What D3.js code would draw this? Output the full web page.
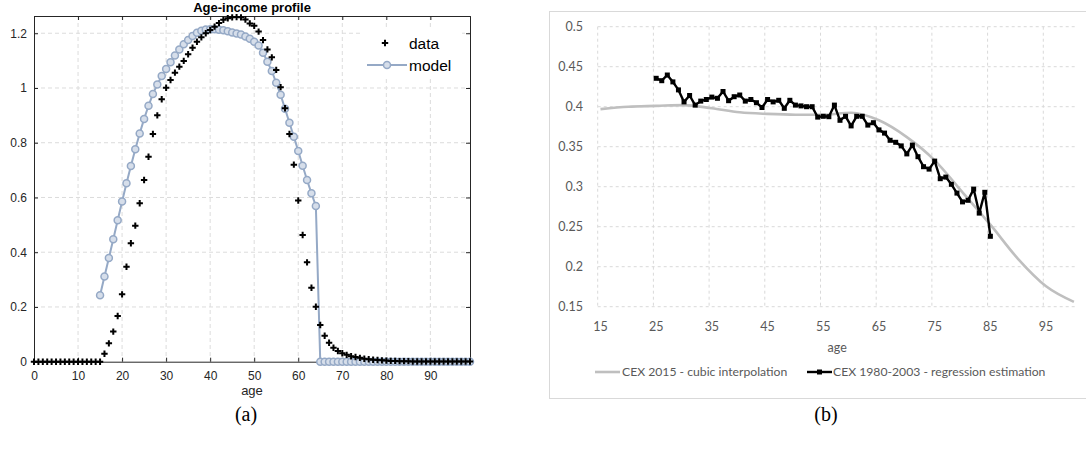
<!DOCTYPE html>
<html>
<head>
<meta charset="utf-8">
<script src="https://cdn.jsdelivr.net/npm/d3@7/dist/d3.min.js"></script>
<style>
  html, body { margin: 0; padding: 0; background: #fff; }
  svg { display: block; }
</style>
</head>
<body>
<svg id="chart" width="1086" height="459"></svg>
<script>
// ---------------- Panel (a) data ----------------
const agesA = d3.range(0, 100);
const dataIncome = [
  0,0,0,0,0,0,0,0,0,0, 0,0,0,0,0,0,0.029,0.067,0.11,0.167,
  0.246,0.347,0.433,0.497,0.579,0.664,0.749,0.832,0.900,0.959,
  1.001,1.029,1.056,1.078,1.099,1.123,1.147,1.169,1.185,1.200,
  1.212,1.224,1.237,1.249,1.255,1.258,1.259,1.258,1.250,1.236,
  1.227,1.206,1.175,1.141,1.112,1.066,1.003,0.926,0.832,0.720,
  0.589,0.463,0.363,0.270,0.201,0.134,0.095,0.069,0.051,0.039,
  0.031,0.025,0.020,0.017,0.014,0.011,0.009,0.007,0.006,0.005,
  0.004,0.003,0.003,0.002,0.002,0.002,0.001,0.001,0.001,0.001,
  0.0005,0.0005,0.0005,0.0005,0.0005,0.0005,0.0005,0.0005,0.0005,0.0005
];
const modelAges = d3.range(15, 100);
const modelIncome = [
  0.243,0.311,0.379,0.447,0.517,0.585,0.652,0.715,0.776,0.834,
  0.887,0.935,0.978,1.013,1.044,1.069,1.094,1.119,1.141,1.160,
  1.175,1.190,1.202,1.209,1.214,1.215,1.215,1.213,1.211,1.207,
  1.203,1.199,1.195,1.188,1.180,1.169,1.155,1.129,1.096,1.062,
  1.019,0.975,0.924,0.873,0.822,0.770,0.716,0.664,0.615,0.569,
  0,0,0,0,0,0,0,0,0,0, 0,0,0,0,0,0,0,0,0,0,
  0,0,0,0,0,0,0,0,0,0, 0,0,0,0,0
];
const xTicksA = [0,10,20,30,40,50,60,70,80,90];
const yTicksA = [0,0.2,0.4,0.6,0.8,1,1.2];
const titleA = "Age-income profile";
const legendA = ["data", "model"];

// ---------------- Panel (b) data ----------------
const agesB = d3.range(15, 101);
const cubicAges = [15,20,25,30,35,40,45,50,55,60,65,70,75,80,85,90,95,100];
const cubicVals = [0.397,0.400,0.401,0.402,0.398,0.393,0.391,0.390,0.390,0.3925,0.383,0.362,0.333,0.293,0.2525,0.2095,0.1755,0.156];
const regAges = d3.range(25, 86);
const regVals = [
  0.4355,0.4325,0.4396,0.431,0.421,0.406,0.414,0.402,0.407,0.409,
  0.412,0.4105,0.419,0.4075,0.4125,0.4146,0.407,0.409,0.405,0.399,
  0.409,0.406,0.408,0.398,0.408,0.402,0.401,0.400,0.400,0.387,
  0.388,0.3875,0.402,0.383,0.388,0.376,0.388,0.388,0.377,0.380,
  0.371,0.367,0.358,0.3555,0.351,0.341,0.352,0.3375,0.325,0.322,
  0.332,0.310,0.312,0.303,0.292,0.281,0.283,0.297,0.267,0.293,
  0.238
];
const xTicksB = [15,25,35,45,55,65,75,85,95];
const yTicksB = [0.15,0.2,0.25,0.3,0.35,0.4,0.45,0.5];
const legendB = ["CEX 2015 - cubic interpolation", "CEX 1980-2003 - regression estimation"];

const svg = d3.select("#chart");

// ================= Panel (a) =================
(function(){
  const L = 34, R = 470, T = 16, B = 361.7;
  const x = d3.scaleLinear().domain([0, 99]).range([L, R]);
  const y = d3.scaleLinear().domain([0, 1.263]).range([B, T]);
  const g = svg.append("g");
  const font = "'Liberation Sans', Arial, Helvetica, sans-serif";

  // grid
  g.append("g").selectAll("line").data(xTicksA.filter(d => d > 0)).join("line")
    .attr("x1", d => x(d)).attr("x2", d => x(d)).attr("y1", T).attr("y2", B)
    .attr("stroke", "#dcdcdc").attr("stroke-dasharray", "4,3").attr("stroke-width", 1);
  g.append("g").selectAll("line").data(yTicksA.filter(d => d > 0)).join("line")
    .attr("x1", L).attr("x2", R).attr("y1", d => y(d)).attr("y2", d => y(d))
    .attr("stroke", "#dcdcdc").attr("stroke-dasharray", "4,3").attr("stroke-width", 1);

  // axes (ticks inward)
  const fmt = d3.format("~g");
  const ax = g.append("g").attr("transform", `translate(0,${B})`)
    .call(d3.axisBottom(x).tickValues(xTicksA).tickSize(-4).tickPadding(9.5).tickFormat(fmt));
  const ay = g.append("g").attr("transform", `translate(${L},0)`)
    .call(d3.axisLeft(y).tickValues(yTicksA).tickSize(-4).tickPadding(7).tickFormat(fmt));
  const axT = g.append("g").attr("transform", `translate(0,${T})`)
    .call(d3.axisTop(x).tickValues(xTicksA).tickSize(-4).tickFormat(""));
  const ayR = g.append("g").attr("transform", `translate(${R},0)`)
    .call(d3.axisRight(y).tickValues(yTicksA).tickSize(-4).tickFormat(""));
  [ax, ay, axT, ayR].forEach(a => {
    a.select(".domain").attr("stroke", "#262626").attr("stroke-width", 1);
    a.selectAll(".tick line").attr("stroke", "#262626");
    a.selectAll("text").attr("font-family", font).attr("font-size", 12).attr("fill", "#262626");
  });

  // title
  g.append("text").attr("x", (L + R) / 2).attr("y", 12).attr("text-anchor", "middle")
    .attr("font-family", font).attr("font-weight", "bold").attr("font-size", 13)
    .attr("fill", "#000").text(titleA);
  // x label
  g.append("text").attr("x", (L + R) / 2).attr("y", 395).attr("text-anchor", "middle")
    .attr("font-family", font).attr("font-size", 13).attr("fill", "#262626").text("age");

  // model line + circles
  const mcol = "#95a9c6";
  const modelData = modelAges.map((a, i) => [a, modelIncome[i]]);
  g.append("path").datum(modelData)
    .attr("d", d3.line().x(d => x(d[0])).y(d => y(d[1])))
    .attr("fill", "none").attr("stroke", mcol).attr("stroke-width", 2);
  g.append("g").selectAll("circle").data(modelData).join("circle")
    .attr("cx", d => x(d[0])).attr("cy", d => y(d[1])).attr("r", 3.5)
    .attr("fill", "#d6deea").attr("stroke", mcol).attr("stroke-width", 1.5);

  // data plus markers
  const plus = "M-3.2,0H3.2M0,-3.2V3.2";
  g.append("g").selectAll("path").data(agesA.map((a, i) => [a, dataIncome[i]])).join("path")
    .attr("transform", d => `translate(${x(d[0])},${y(d[1])})`)
    .attr("d", plus).attr("stroke", "#000").attr("stroke-width", 2).attr("fill", "none");

  // legend
  const lg = g.append("g");
  lg.append("rect").attr("x", 362).attr("y", 30).attr("width", 100).attr("height", 48).attr("fill", "#fff");
  lg.append("path").attr("transform", "translate(385,43)").attr("d", plus)
    .attr("stroke", "#000").attr("stroke-width", 2);
  lg.append("line").attr("x1", 367).attr("x2", 407).attr("y1", 65).attr("y2", 65)
    .attr("stroke", mcol).attr("stroke-width", 2);
  lg.append("circle").attr("cx", 387).attr("cy", 65).attr("r", 3.5)
    .attr("fill", "#d6deea").attr("stroke", mcol).attr("stroke-width", 1.5);
  lg.append("text").attr("x", 409).attr("y", 48.5).attr("font-family", font).attr("font-size", 15.5)
    .attr("fill", "#000").text(legendA[0]);
  lg.append("text").attr("x", 409).attr("y", 70.5).attr("font-family", font).attr("font-size", 15.5)
    .attr("fill", "#000").text(legendA[1]);

  svg.append("text").attr("x", 246).attr("y", 421).attr("text-anchor", "middle")
    .attr("font-family", "'Liberation Serif', 'Times New Roman', serif").attr("font-size", 20)
    .attr("fill", "#000").text("(a)");
})();

// ================= Panel (b) =================
(function(){
  const L = 597.7, R = 1076.7, T = 26.7, B = 306.7;
  const x = d3.scaleBand().domain(agesB).range([L, R]).paddingInner(0).paddingOuter(0);
  const cx = a => x(a) + x.bandwidth() / 2;
  const y = d3.scaleLinear().domain([0.15, 0.5]).range([B, T]);
  const font = "Lato, 'Open Sans', sans-serif";
  const g = svg.append("g");

  // frame
  g.append("rect").attr("x", 549.5).attr("y", 11.5).attr("width", 560).attr("height", 387)
    .attr("fill", "#fff").attr("stroke", "#d9d9d9").attr("stroke-width", 1);

  // grid
  g.append("g").selectAll("line").data(xTicksB).join("line")
    .attr("x1", d => x(d)).attr("x2", d => x(d)).attr("y1", T).attr("y2", B)
    .attr("stroke", "#d9d9d9").attr("stroke-dasharray", "3,3");
  g.append("g").selectAll("line").data(yTicksB).join("line")
    .attr("x1", L).attr("x2", R).attr("y1", d => y(d)).attr("y2", d => y(d))
    .attr("stroke", "#d9d9d9").attr("stroke-dasharray", "3,3");

  // tick labels
  g.append("g").selectAll("text").data(yTicksB).join("text")
    .attr("x", 583).attr("y", d => y(d)).attr("dy", "0.35em").attr("text-anchor", "end")
    .attr("font-family", font).attr("font-size", 12.5).attr("fill", "#595959")
    .text(d => d3.format("~g")(d));
  g.append("g").selectAll("text").data(xTicksB).join("text")
    .attr("x", d => cx(d)).attr("y", 327).attr("dy", "0.35em").attr("text-anchor", "middle")
    .attr("font-family", font).attr("font-size", 12.5).attr("fill", "#595959")
    .text(d => d);
  g.append("text").attr("x", (L + R) / 2).attr("y", 348).attr("dy", "0.35em").attr("text-anchor", "middle")
    .attr("font-family", font).attr("font-size", 12.5).attr("fill", "#595959").text("age");

  // cubic series
  g.append("path").datum(cubicAges.map((a, i) => [a, cubicVals[i]]))
    .attr("d", d3.line().x(d => cx(d[0])).y(d => y(d[1])).curve(d3.curveMonotoneX))
    .attr("fill", "none").attr("stroke", "#bfbfbf").attr("stroke-width", 2.6);

  // regression series
  const reg = regAges.map((a, i) => [a, regVals[i]]);
  g.append("path").datum(reg)
    .attr("d", d3.line().x(d => cx(d[0])).y(d => y(d[1])))
    .attr("fill", "none").attr("stroke", "#000").attr("stroke-width", 2.4).attr("stroke-linejoin", "round");
  g.append("g").selectAll("rect").data(reg).join("rect")
    .attr("x", d => cx(d[0]) - 2.5).attr("y", d => y(d[1]) - 2.5)
    .attr("width", 5).attr("height", 5).attr("fill", "#000");

  // legend
  g.append("line").attr("x1", 595).attr("x2", 620).attr("y1", 372).attr("y2", 372)
    .attr("stroke", "#bfbfbf").attr("stroke-width", 2.6);
  g.append("text").attr("x", 622).attr("y", 372).attr("dy", "0.35em")
    .attr("font-family", font).attr("font-size", 12.2).attr("fill", "#595959").text(legendB[0]);
  g.append("line").attr("x1", 807).attr("x2", 832).attr("y1", 372).attr("y2", 372)
    .attr("stroke", "#000").attr("stroke-width", 2.4);
  g.append("rect").attr("x", 817).attr("y", 369.5).attr("width", 5).attr("height", 5).attr("fill", "#000");
  g.append("text").attr("x", 833).attr("y", 372).attr("dy", "0.35em")
    .attr("font-family", font).attr("font-size", 12.2).attr("fill", "#595959").text(legendB[1]);

  svg.append("text").attr("x", 826).attr("y", 421).attr("text-anchor", "middle")
    .attr("font-family", "'Liberation Serif', 'Times New Roman', serif").attr("font-size", 20)
    .attr("fill", "#000").text("(b)");
})();
</script>
</body>
</html>
